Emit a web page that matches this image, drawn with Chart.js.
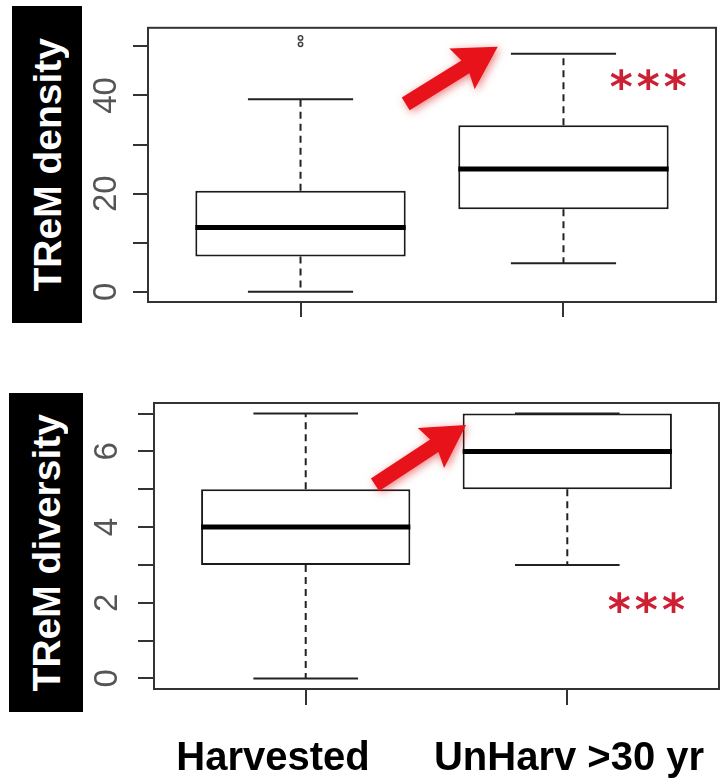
<!DOCTYPE html>
<html>
<head>
<meta charset="utf-8">
<script src="https://cdn.jsdelivr.net/npm/chart.js@4.4.1/dist/chart.umd.min.js"></script>
<style>
html,body{margin:0;padding:0;background:#fff;}
body{width:722px;height:783px;position:relative;overflow:hidden;font-family:'Liberation Sans',Arial,sans-serif;}
.panel{position:absolute;left:0;width:722px;}
.ylab{position:absolute;background:#000;color:#fff;font-weight:bold;font-size:39px;display:flex;align-items:center;justify-content:center;}
.ylab span{writing-mode:vertical-rl;transform:rotate(180deg);white-space:nowrap;line-height:1;}
.xlab{position:absolute;top:736px;font-weight:bold;font-size:40px;line-height:40px;white-space:nowrap;transform:translateX(-50%);color:#000;}
</style>
</head>
<body>
<div class="panel" style="top:0;height:340px"><canvas id="c1"></canvas></div>
<div class="panel" style="top:340px;height:443px"><canvas id="c2"></canvas></div>
<div class="ylab" style="left:12px;top:6px;width:70px;height:317px"><span id="t1"></span></div>
<div class="ylab" style="left:9px;top:393px;width:74px;height:319px"><span id="t2"></span></div>
<div class="xlab" id="xl0" style="left:273px"></div>
<div class="xlab" id="xl1" style="left:569px"></div>
<script>
// ---------- data ----------
const categories = ['Harvested', 'UnHarv >30 yr'];
const panelTitles = ['TReM density', 'TReM diversity'];

const densityMin = [0, 5.8];
const densityQ1 = [7.2, 16.8];
const densityMedian = [13.1, 25.0];
const densityQ3 = [20.6, 33.9];
const densityMax = [39.2, 48.5];
const densityOutliers = [[50.4, 51.7], []];
const densityTicks = [0, 10, 20, 30, 40, 50];
const densityTickLabels = ['0', '', '20', '', '40', ''];

const diversityMin = [0, 3];
const diversityQ1 = [3, 5];
const diversityMedian = [4, 6];
const diversityQ3 = [5, 7];
const diversityMax = [7, 7];
const diversityOutliers = [[], []];
const diversityTicks = [0, 1, 2, 3, 4, 5, 6, 7];
const diversityTickLabels = ['0', '', '2', '', '4', '', '6', ''];

const sigLabel = '***';
// annotation anchors in data units [x, y]
const densityArrowFrom = [1.40, 38.3];
const densityArrowTo = [1.75, 49.9];
const densitySigAt = [2.33, 43.3];
const diversityArrowFrom = [1.265, 5.12];
const diversityArrowTo = [1.613, 6.70];
const diversitySigAt = [2.31, 2.0];

// ---------- helpers ----------
function rLimits(vals) {
  const lo = Math.min(...vals), hi = Math.max(...vals);
  const d = (hi - lo) * 0.04;
  return [lo - d, hi + d];
}
const xLimits = rLimits([0.5, categories.length + 0.5]);

function drawArrow(ctx, x1, y1, x2, y2) {
  const ang = Math.atan2(y2 - y1, x2 - x1);
  const L = Math.hypot(x2 - x1, y2 - y1);
  const headLen = 42, headHalf = 24, shaft = 7.5;
  ctx.save();
  ctx.translate(x2, y2);
  ctx.rotate(ang);
  ctx.shadowColor = 'rgba(220,0,0,0.5)';
  ctx.shadowBlur = 9;
  ctx.shadowOffsetX = 2;
  ctx.shadowOffsetY = 2;
  ctx.fillStyle = '#e8121a';
  ctx.beginPath();
  ctx.moveTo(0, 0);
  ctx.lineTo(-headLen, -headHalf);
  ctx.lineTo(-headLen + 4, -shaft);
  ctx.lineTo(-L, -shaft);
  ctx.lineTo(-L, shaft);
  ctx.lineTo(-headLen + 4, shaft);
  ctx.lineTo(-headLen, headHalf);
  ctx.closePath();
  ctx.fill();
  ctx.restore();
}

const boxPlugin = {
  id: 'boxplot',
  afterDatasetsDraw(chart, args, o) {
    const ctx = chart.ctx, xs = chart.scales.x, ys = chart.scales.y;
    ctx.save();
    for (let i = 0; i < categories.length; i++) {
      const xc = xs.getPixelForValue(i + 1);
      const capHalf = xs.getPixelForValue(i + 1 + 0.2) - xc;
      const boxHalf = xs.getPixelForValue(i + 1 + 0.4) - xc;
      const pMin = ys.getPixelForValue(o.min[i]);
      const pQ1 = ys.getPixelForValue(o.q1[i]);
      const pMed = ys.getPixelForValue(o.median[i]);
      const pQ3 = ys.getPixelForValue(o.q3[i]);
      const pMax = ys.getPixelForValue(o.max[i]);
      ctx.strokeStyle = '#222';
      ctx.lineWidth = 2;
      ctx.setLineDash([7, 5]);
      ctx.beginPath();
      if (o.max[i] > o.q3[i]) { ctx.moveTo(xc, pQ3); ctx.lineTo(xc, pMax); }
      if (o.min[i] < o.q1[i]) { ctx.moveTo(xc, pQ1); ctx.lineTo(xc, pMin); }
      ctx.stroke();
      ctx.setLineDash([]);
      ctx.beginPath();
      ctx.moveTo(xc - capHalf, pMax); ctx.lineTo(xc + capHalf, pMax);
      ctx.moveTo(xc - capHalf, pMin); ctx.lineTo(xc + capHalf, pMin);
      ctx.stroke();
      ctx.strokeStyle = '#000';
      ctx.lineWidth = 5;
      ctx.beginPath();
      ctx.moveTo(xc - boxHalf, pMed); ctx.lineTo(xc + boxHalf, pMed);
      ctx.stroke();
    }
    ctx.restore();
  },
  afterDraw(chart, args, o) {
    const ctx = chart.ctx, a = chart.chartArea, xs = chart.scales.x, ys = chart.scales.y;
    ctx.save();
    ctx.strokeStyle = '#333';
    ctx.lineWidth = 2;
    ctx.strokeRect(a.left, a.top, a.right - a.left, a.bottom - a.top);
    drawArrow(ctx,
      xs.getPixelForValue(o.arrowFrom[0]), ys.getPixelForValue(o.arrowFrom[1]),
      xs.getPixelForValue(o.arrowTo[0]), ys.getPixelForValue(o.arrowTo[1]));
    ctx.fillStyle = 'rgb(205,32,52)';
    ctx.font = 'bold 44px "DejaVu Sans"';
    ctx.textAlign = 'center';
    ctx.textBaseline = 'alphabetic';
    try { ctx.letterSpacing = '4px'; } catch (e) {}
    const m = ctx.measureText(sigLabel);
    const cx = xs.getPixelForValue(o.sigAt[0]);
    const cy = ys.getPixelForValue(o.sigAt[1]);
    ctx.fillText(sigLabel, cx, cy + (m.actualBoundingBoxAscent - m.actualBoundingBoxDescent) / 2);
    ctx.restore();
  }
};

function makeChart(id, st, ticks, tickLabels, pad, xAxisH, tickLen, tickPad) {
  const yl = rLimits([...st.min, ...st.max, ...st.outliers.flat()]);
  const boxData = categories.map((c, i) => ({ x: i + 1, y: [st.q1[i], st.q3[i]] }));
  const outData = [];
  st.outliers.forEach((arr, i) => arr.forEach(v => outData.push({ x: i + 1, y: v })));
  return new Chart(document.getElementById(id), {
    type: 'bar',
    data: {
      datasets: [
        {
          type: 'bar', data: boxData,
          backgroundColor: '#fff', borderColor: '#1a1a1a', borderWidth: 2,
          borderSkipped: false, barPercentage: 1, categoryPercentage: 0.8
        },
        {
          type: 'scatter', data: outData,
          pointRadius: 2.2, pointBorderWidth: 1.5,
          pointBorderColor: '#444', pointBackgroundColor: 'rgba(0,0,0,0)'
        }
      ]
    },
    options: {
      responsive: true, maintainAspectRatio: false, animation: false, events: [],
      layout: { padding: pad },
      plugins: {
        legend: { display: false }, tooltip: { enabled: false },
        boxplot: st
      },
      scales: {
        x: {
          type: 'linear', min: xLimits[0], max: xLimits[1], offset: false,
          afterBuildTicks: s => { s.ticks = categories.map((c, i) => ({ value: i + 1 })); },
          afterFit: s => { s.height = xAxisH; },
          grid: { offset: false, drawOnChartArea: false, drawTicks: true, tickLength: tickLen, color: '#333', lineWidth: 2 },
          border: { display: false },
          ticks: { display: false, autoSkip: false }
        },
        y: {
          type: 'linear', min: yl[0], max: yl[1],
          afterBuildTicks: s => { s.ticks = ticks.map(v => ({ value: v })); },
          afterFit: s => { s.width = 60; },
          grid: { drawOnChartArea: false, drawTicks: true, tickLength: tickLen, color: '#333', lineWidth: 2 },
          border: { display: true, color: '#333', width: 2 },
          ticks: {
            autoSkip: false, minRotation: 90, maxRotation: 90, crossAlign: 'center',
            padding: tickPad, color: '#555',
            font: { family: 'Liberation Sans', size: 33 },
            callback: (v, i) => tickLabels[i]
          }
        }
      }
    },
    plugins: [boxPlugin]
  });
}

document.getElementById('t1').textContent = panelTitles[0];
document.getElementById('t2').textContent = panelTitles[1];
document.getElementById('xl0').textContent = categories[0];
document.getElementById('xl1').textContent = categories[1];

makeChart('c1', {
  min: densityMin, q1: densityQ1, median: densityMedian, q3: densityQ3, max: densityMax,
  outliers: densityOutliers, arrowFrom: densityArrowFrom, arrowTo: densityArrowTo, sigAt: densitySigAt
}, densityTicks, densityTickLabels, { left: 88, top: 14, right: 6, bottom: 0 }, 38, 15, 8);

makeChart('c2', {
  min: diversityMin, q1: diversityQ1, median: diversityMedian, q3: diversityQ3, max: diversityMax,
  outliers: diversityOutliers, arrowFrom: diversityArrowFrom, arrowTo: diversityArrowTo, sigAt: diversitySigAt
}, diversityTicks, diversityTickLabels, { left: 94, top: 63, right: 3, bottom: 56 }, 38, 16, 21);
</script>
</body>
</html>
